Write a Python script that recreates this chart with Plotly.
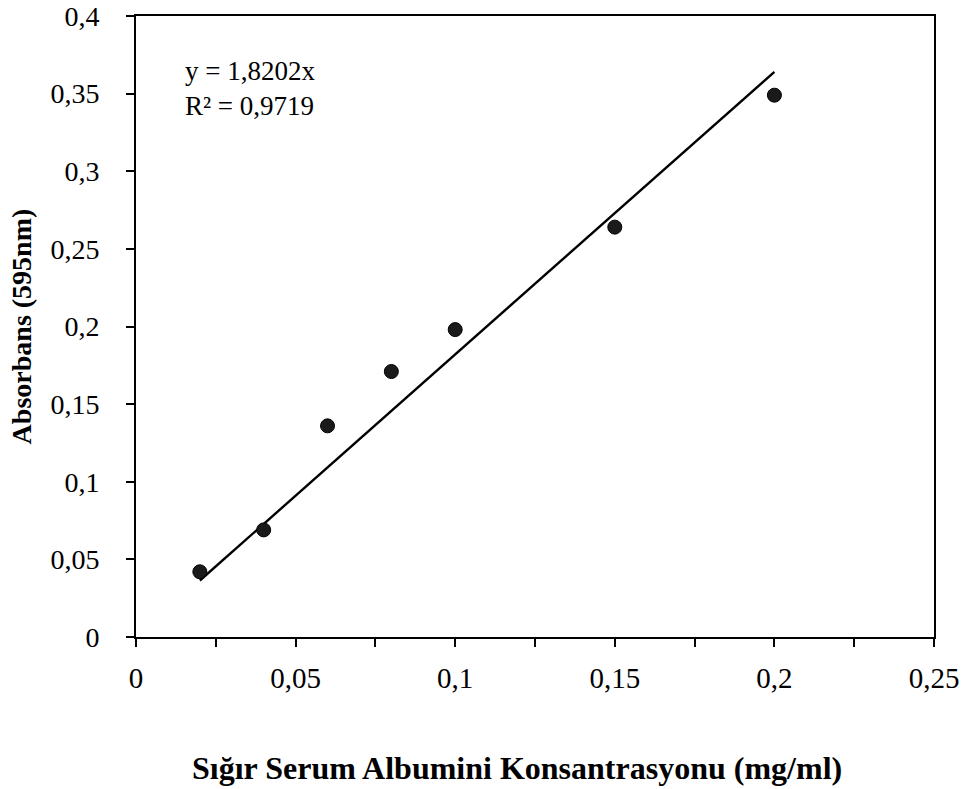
import plotly.graph_objects as go

conc = [0.02, 0.04, 0.06, 0.08, 0.10, 0.15, 0.20]
absorb = [0.042, 0.069, 0.136, 0.171, 0.198, 0.264, 0.349]
slope = 1.8202
r2 = 0.9719
x_ticks = [0, 0.05, 0.1, 0.15, 0.2, 0.25]
x_ticktext = ["0", "0,05", "0,1", "0,15", "0,2", "0,25"]
y_ticks = [0, 0.05, 0.1, 0.15, 0.2, 0.25, 0.3, 0.35, 0.4]
y_ticktext = ["0", "0,05", "0,1", "0,15", "0,2", "0,25", "0,3", "0,35", "0,4"]

trend_x = [min(conc), max(conc)]
trend_y = [slope * v for v in trend_x]

font_fam = "Liberation Serif"

fig = go.Figure()
fig.add_trace(go.Scatter(x=trend_x, y=trend_y, mode="lines",
                         line=dict(color="black", width=2.4), showlegend=False))
fig.add_trace(go.Scatter(x=conc, y=absorb, mode="markers",
                         marker=dict(color="#1a1a1a", size=14,
                                     line=dict(color="black", width=1)),
                         showlegend=False))

fig.add_annotation(x=0.0, y=0.353, xref="x", yref="y", xanchor="left", yanchor="middle",
                   xshift=47, showarrow=False, align="left",
                   text="y = 1,8202x<br>R² = 0,9719",
                   font=dict(family=font_fam, size=27, color="black"))

fig.add_annotation(x=0.477, y=-0.211, xref="paper", yref="paper", xanchor="center", yanchor="middle",
                   showarrow=False, text="<b>Sığır Serum Albumini Konsantrasyonu (mg/ml)</b>",
                   font=dict(family=font_fam, size=32, color="black"))
fig.add_annotation(x=-0.143, y=0.5, xref="paper", yref="paper", xanchor="center", yanchor="middle",
                   showarrow=False, textangle=-90, text="<b>Absorbans (595nm)</b>",
                   font=dict(family=font_fam, size=28, color="black"))

fig.update_layout(
    width=971, height=789,
    margin=dict(l=136, r=37, t=16, b=152, autoexpand=False),
    paper_bgcolor="white", plot_bgcolor="white",
    font=dict(family=font_fam, color="black"),
)
fig.update_xaxes(
    range=[0, 0.25], tickvals=x_ticks, ticktext=x_ticktext,
    ticks="outside", ticklen=8, tickwidth=2, tickcolor="black",
    showline=True, linecolor="black", linewidth=2, mirror=True,
    showgrid=False, zeroline=False, automargin=False,
    tickfont=dict(family=font_fam, size=29, color="black"),
    ticklabelstandoff=6,
    minor=dict(dtick=0.025, tick0=0, ticks="outside", ticklen=8, tickwidth=2, tickcolor="black", showgrid=False),
)
fig.update_yaxes(
    range=[0, 0.4], tickvals=y_ticks, ticktext=y_ticktext,
    ticks="outside", ticklen=8, tickwidth=2, tickcolor="black",
    showline=True, linecolor="black", linewidth=2, mirror=True,
    showgrid=False, zeroline=False, automargin=False,
    tickfont=dict(family=font_fam, size=28, color="black"),
    ticklabelstandoff=21,
)

fig.write_html("out.html")
